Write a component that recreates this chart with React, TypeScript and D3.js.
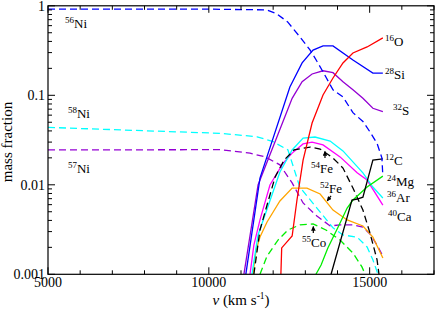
import * as d3 from "d3";

// velocity (km/s) vs mass fraction
const ni56: [number, number][] = [[5000, 0.92], [9700, 0.92], [11800, 0.9], [12100, 0.82], [12450, 0.66], [12830, 0.45], [13150, 0.32], [13360, 0.24], [13600, 0.17], [13860, 0.115], [14170, 0.096], [14480, 0.064], [14790, 0.051], [15010, 0.039], [15230, 0.029], [15380, 0.02], [15410, 0.0125]];
const ni58: [number, number][] = [[5000, 0.0438], [10350, 0.0376], [11500, 0.0344], [12000, 0.0303], [12460, 0.0245], [12830, 0.0094], [13360, 0.0055], [13860, 0.0033], [14170, 0.00275], [14610, 0.0026], [14920, 0.00202], [15100, 0.00145], [15260, 0.001]];
const ni57: [number, number][] = [[5000, 0.0245], [10350, 0.0247], [11280, 0.0226], [11750, 0.0205], [12210, 0.0167], [12590, 0.0105], [12930, 0.00627], [13360, 0.00448], [13770, 0.00347], [14080, 0.00356], [14480, 0.00356], [14790, 0.00337], [15010, 0.00282], [15230, 0.00212], [15410, 0.0016]];
const fe54: [number, number][] = [[11400, 0.001], [11590, 0.00313], [11810, 0.00594], [12060, 0.0122], [12340, 0.0189], [12650, 0.0245], [13150, 0.0264], [13460, 0.0251], [13860, 0.0199], [14170, 0.0154], [14480, 0.0092], [14790, 0.00522], [15010, 0.00289], [15230, 0.00145], [15290, 0.001]];
const co55: [number, number][] = [[11590, 0.001], [11810, 0.0016], [12150, 0.00241], [12460, 0.00313], [12830, 0.00356], [13240, 0.00365], [13640, 0.00313], [14080, 0.00241], [14480, 0.00173], [14760, 0.00121], [14860, 0.001]];
const si28: [number, number][] = [[11150, 0.001], [11590, 0.0119], [12520, 0.124], [12900, 0.23], [13240, 0.32], [13550, 0.356], [13860, 0.356], [14480, 0.248], [15100, 0.177], [15410, 0.177]];
const s32: [number, number][] = [[11090, 0.001], [11530, 0.00995], [12590, 0.0925], [12900, 0.142], [13210, 0.173], [13550, 0.188], [13860, 0.179], [14170, 0.142], [14480, 0.115], [14790, 0.0925], [15100, 0.0716], [15410, 0.0657]];
const o16: [number, number][] = [[12240, 0.001], [12265, 0.00197], [12590, 0.00268], [12740, 0.00676], [12930, 0.0189], [13210, 0.049], [13550, 0.101], [13860, 0.156], [14170, 0.23], [14480, 0.297], [14920, 0.347], [15410, 0.438]];
const c12: [number, number][] = [[13800, 0.001], [14450, 0.00676], [14610, 0.00694], [14790, 0.00728], [15100, 0.0189], [15410, 0.0195]];
const mg24: [number, number][] = [[13330, 0.001], [13490, 0.00127], [13700, 0.00197], [14020, 0.00337], [14300, 0.0055], [14480, 0.00676], [14920, 0.00944], [15410, 0.0125]];
const ar36: [number, number][] = [[11340, 0.001], [11530, 0.00275], [12210, 0.0139], [12590, 0.0245], [12930, 0.0333], [13300, 0.0342], [13770, 0.0308], [14170, 0.0239], [14790, 0.0136], [15100, 0.00944], [15410, 0.00713]];
const ca40: [number, number][] = [[11280, 0.001], [11400, 0.00212], [11590, 0.00405], [11900, 0.00995], [12310, 0.0175], [12590, 0.0226], [12930, 0.0286], [13210, 0.03], [13550, 0.0279], [14080, 0.0205], [14610, 0.0136], [14920, 0.0113], [15410, 0.00594]];
const orange: [number, number][] = [[11370, 0.001], [11470, 0.00187], [11590, 0.00261], [11810, 0.00384], [12210, 0.00659], [12590, 0.0092], [13050, 0.0092], [13460, 0.00789], [13860, 0.00522], [14300, 0.00405], [14790, 0.00347], [15100, 0.00261], [15410, 0.00152]];

const series = [
  { data: ni58, color: "#00ffff", dash: true },
  { data: ni57, color: "#9400d3", dash: true },
  { data: co55, color: "#00ee00", dash: true },
  { data: orange, color: "#ffa500", dash: false },
  { data: ca40, color: "#ff00ff", dash: false },
  { data: ar36, color: "#00ffff", dash: false },
  { data: fe54, color: "#000000", dash: true },
  { data: mg24, color: "#00ee00", dash: false },
  { data: c12, color: "#000000", dash: false },
  { data: s32, color: "#9400d3", dash: false },
  { data: si28, color: "#0000ff", dash: false },
  { data: o16, color: "#ff0000", dash: false },
  { data: ni56, color: "#0000ff", dash: true },
];

// isotope labels: mass number, element, anchor (v, fraction) at the text baseline
const labels: [string, string, number, number][] = [
  ["56", "Ni", 5530, 0.565],
  ["58", "Ni", 5620, 0.0557],
  ["57", "Ni", 5620, 0.01355],
  ["16", "O", 15480, 0.356],
  ["28", "Si", 15480, 0.152],
  ["32", "S", 15725, 0.0603],
  ["12", "C", 15480, 0.01664],
  ["24", "Mg", 15540, 0.0097],
  ["36", "Ar", 15540, 0.00643],
  ["40", "Ca", 15570, 0.00394],
  ["54", "Fe", 13176, 0.01355],
  ["52", "Fe", 13456, 0.00809],
  ["55", "Co", 12896, 0.00202],
];

// arrows: from (v, X) to (v, X)
const arrows: [number, number, number, number][] = [
  [13611, 0.0199, 13611, 0.0236],
  [13798, 0.0075, 13680, 0.0066],
  [13248, 0.00289, 13248, 0.00342],
];

const xMajor = [5000, 10000, 15000];
const xMinor = d3.range(5000, 17001, 1000);
const yMajor = [0.001, 0.01, 0.1, 1];
const yMajorLabels = ["0.001", "0.01", "0.1", "1"];
const yMinor = [0.001, 0.01, 0.1].flatMap((d) => d3.range(2, 10).map((k) => d * k));

const W = 436;
const H = 311;
const L = 48, R = 434, T = 5.8, B = 274.3;
const FONT = "Liberation Serif, Times New Roman, serif";

export default function App() {
  const x = d3.scaleLinear().domain([5000, 17000]).range([L, R]);
  const y = d3.scaleLog().domain([0.001, 1]).range([B, T]);
  const line = d3.line<[number, number]>().x((d) => x(d[0])).y((d) => y(d[1]));

  return (
    <svg width={W} height={H} style={{ position: "absolute", left: 0, top: 0, background: "#fff", fontFamily: FONT }}>
      <defs>
        <clipPath id="plot">
          <rect x={L} y={T} width={R - L} height={B - T} />
        </clipPath>
        <marker id="head" viewBox="0 0 10 10" refX="9" refY="5" markerWidth="4" markerHeight="4" orient="auto">
          <path d="M0,0 L10,5 L0,10 z" fill="#000" />
        </marker>
      </defs>

      <g clipPath="url(#plot)" fill="none" strokeWidth={1.3}>
        {series.map((s, i) => (
          <path key={i} d={line(s.data) || ""} stroke={s.color} strokeDasharray={s.dash ? "7,4" : undefined} />
        ))}
      </g>

      {/* frame and ticks */}
      <rect x={L} y={T} width={R - L} height={B - T} fill="none" stroke="#000" strokeWidth={1.2} />
      <g stroke="#000" strokeWidth={1}>
        {xMinor.map((v) => {
          const len = xMajor.includes(v) ? 7 : 4;
          return (
            <g key={"x" + v}>
              <line x1={x(v)} x2={x(v)} y1={B} y2={B - len} />
              <line x1={x(v)} x2={x(v)} y1={T} y2={T + len} />
            </g>
          );
        })}
        {yMinor.map((v) => (
          <g key={"ym" + v}>
            <line x1={L} x2={L + 4} y1={y(v)} y2={y(v)} />
            <line x1={R} x2={R - 4} y1={y(v)} y2={y(v)} />
          </g>
        ))}
        {yMajor.map((v) => (
          <g key={"yM" + v}>
            <line x1={L} x2={L + 7} y1={y(v)} y2={y(v)} />
            <line x1={R} x2={R - 7} y1={y(v)} y2={y(v)} />
          </g>
        ))}
      </g>

      <g fontSize={14} fill="#000">
        {yMajor.map((v, i) => (
          <text key={v} x={L - 3} y={y(v)} dy="0.35em" textAnchor="end">
            {yMajorLabels[i]}
          </text>
        ))}
        {xMajor.map((v) => (
          <text key={v} x={x(v)} y={B + 13} textAnchor="middle">
            {v}
          </text>
        ))}
      </g>

      <text transform={`translate(12,${(T + B) / 2 + 2}) rotate(-90)`} textAnchor="middle" fontSize={15}>
        mass fraction
      </text>
      <text x={(L + R) / 2} y={305} textAnchor="middle" fontSize={15}>
        <tspan fontStyle="italic">v</tspan> (km s<tspan fontSize={9.5} dy={-6}>-1</tspan><tspan dy={6}>)</tspan>
      </text>

      {labels.map(([m, el, v, f], i) => (
        <text key={i} x={x(v)} y={y(f)} fontSize={13}>
          <tspan fontSize={9} dy={-5}>{m}</tspan>
          <tspan dy={5}>{el}</tspan>
        </text>
      ))}

      {arrows.map(([v0, f0, v1, f1], i) => (
        <line key={i} x1={x(v0)} y1={y(f0)} x2={x(v1)} y2={y(f1)} stroke="#000" strokeWidth={1.2} markerEnd="url(#head)" />
      ))}
    </svg>
  );
}
